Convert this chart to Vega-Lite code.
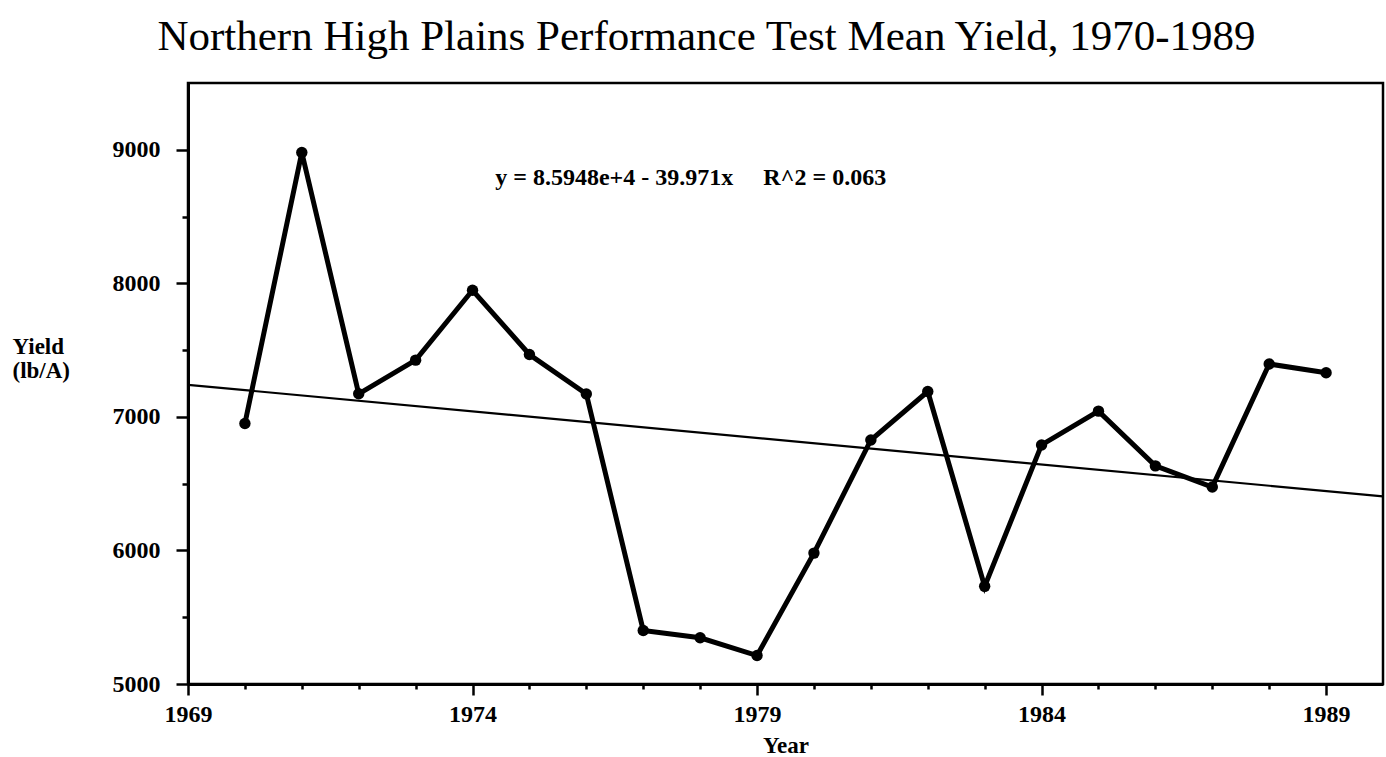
{
  "$schema": "https://vega.github.io/schema/vega-lite/v6.json",
  "autosize": "none",
  "width": 1195,
  "height": 601,
  "padding": {"left": 188, "top": 83, "right": 3, "bottom": 73},
  "background": "white",
  "title": {
    "text": "Northern High Plains Performance Test Mean Yield, 1970-1989",
    "font": "Liberation Serif",
    "fontSize": 43,
    "fontWeight": "normal",
    "color": "black",
    "anchor": "middle",
    "baseline": "alphabetic",
    "offset": 33,
    "dy": 43,
    "dx": -79
  },
  "config": {
    "view": {"stroke": "black", "strokeWidth": 2.5},
    "axis": {
      "domainColor": "black",
      "domainWidth": 3,
      "tickColor": "black",
      "tickWidth": 2.5,
      "grid": false,
      "labelFont": "Liberation Serif",
      "labelFontWeight": "bold",
      "labelFontSize": 24,
      "labelColor": "black",
      "titleFont": "Liberation Serif",
      "titleFontWeight": "bold",
      "titleFontSize": 23,
      "titleColor": "black"
    }
  },
  "datasets": {
    "yields": [
      {"year": 1970, "yield": 6951},
      {"year": 1971, "yield": 8980},
      {"year": 1972, "yield": 7173},
      {"year": 1973, "yield": 7425},
      {"year": 1974, "yield": 7948},
      {"year": 1975, "yield": 7467},
      {"year": 1976, "yield": 7172},
      {"year": 1977, "yield": 5401},
      {"year": 1978, "yield": 5346},
      {"year": 1979, "yield": 5213},
      {"year": 1980, "yield": 5980},
      {"year": 1981, "yield": 6827},
      {"year": 1982, "yield": 7190},
      {"year": 1983, "yield": 5731},
      {"year": 1984, "yield": 6790},
      {"year": 1985, "yield": 7043},
      {"year": 1986, "yield": 6633},
      {"year": 1987, "yield": 6475},
      {"year": 1988, "yield": 7396},
      {"year": 1989, "yield": 7331}
    ],
    "fit": [
      {"year": 1969, "yield": 7240},
      {"year": 1990, "yield": 6405}
    ],
    "note": [
      {"label": "y = 8.5948e+4 - 39.971x\u00a0\u00a0\u00a0\u00a0\u00a0R^2 = 0.063"}
    ]
  },
  "layer": [
    {
      "data": {"name": "fit"},
      "mark": {"type": "line", "color": "black", "strokeWidth": 2.2, "clip": true},
      "encoding": {
        "x": {
          "field": "year",
          "type": "quantitative",
          "scale": {"domain": [1969, 1990], "nice": false, "zero": false},
          "axis": {
            "title": "Year",
            "titleBaseline": "alphabetic",
            "titleY": 68,
            "values": [1969, 1970, 1971, 1972, 1973, 1974, 1975, 1976, 1977, 1978, 1979, 1980, 1981, 1982, 1983, 1984, 1985, 1986, 1987, 1988, 1989],
            "labelExpr": "datum.value % 5 === 4 ? toString(datum.value) : ''",
            "labelFlush": false,
            "labelOverlap": false,
            "labelPadding": 7,
            "tickSize": {"condition": {"test": "datum.value % 5 === 4", "value": 11}, "value": 5}
          }
        },
        "y": {
          "field": "yield",
          "type": "quantitative",
          "scale": {"domain": [5000, 9500], "nice": false, "zero": false},
          "axis": {
            "title": ["Yield", "(lb/A)"],
            "titleAngle": 0,
            "titleAlign": "left",
            "titleBaseline": "alphabetic",
            "titleX": -176,
            "titleY": 270,
            "titleLineHeight": 24,
            "values": [5000, 5500, 6000, 6500, 7000, 7500, 8000, 8500, 9000],
            "labelExpr": "datum.value % 1000 === 0 ? toString(datum.value) : ''",
            "labelFlush": false,
            "labelOverlap": false,
            "labelPadding": 16,
            "tickSize": {"condition": {"test": "datum.value % 1000 === 0", "value": 12}, "value": 6}
          }
        }
      }
    },
    {
      "data": {"name": "yields"},
      "mark": {
        "type": "line",
        "color": "black",
        "strokeWidth": 5,
        "strokeJoin": "miter",
        "point": {"filled": true, "size": 130, "color": "black", "opacity": 1}
      },
      "encoding": {
        "x": {"field": "year", "type": "quantitative"},
        "y": {"field": "yield", "type": "quantitative"}
      }
    },
    {
      "data": {"name": "note"},
      "mark": {
        "type": "text",
        "font": "Liberation Serif",
        "fontWeight": "bold",
        "fontSize": 24,
        "color": "black",
        "align": "left",
        "baseline": "alphabetic"
      },
      "encoding": {
        "text": {"field": "label"},
        "x": {"datum": 1974.4, "type": "quantitative"},
        "y": {"datum": 8740, "type": "quantitative"}
      }
    }
  ]
}
